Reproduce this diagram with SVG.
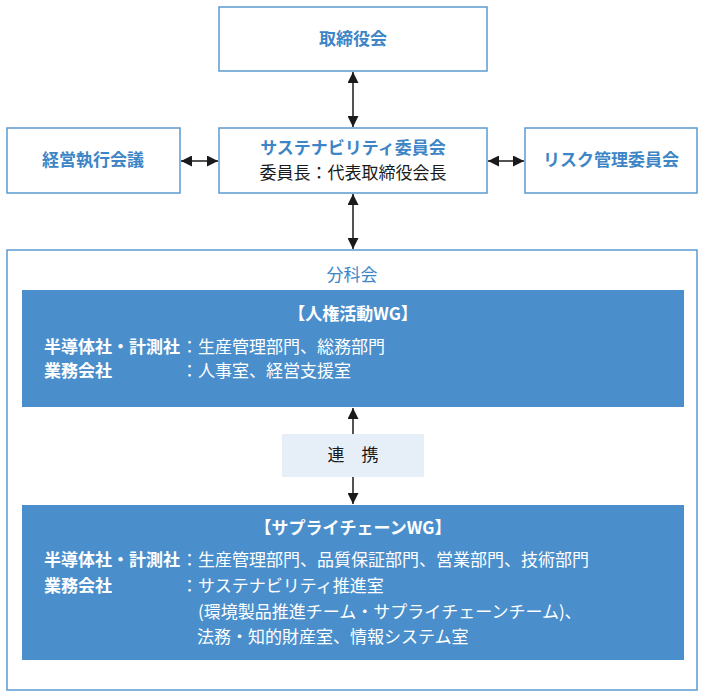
<svg xmlns="http://www.w3.org/2000/svg" width="705" height="697" viewBox="0 0 705 697">
<defs>
<marker id="ah" viewBox="0 0 10 10" refX="10" refY="5" markerWidth="11" markerHeight="11" markerUnits="userSpaceOnUse" orient="auto-start-reverse">
<path d="M0,0 L10,5 L0,10 z" fill="#1a1a1a"/>
</marker>
<style>
.box{fill:#fff;stroke:#5b9bd0;stroke-width:1.5}
.blue{fill:#4a8fcc}
.lbl{font-family:"Noto Sans CJK JP","Noto Sans",sans-serif;font-size:17px;fill:#3d85c6;font-weight:700;text-anchor:middle}
.blk{font-family:"Noto Sans CJK JP","Noto Sans",sans-serif;font-size:17px;fill:#1a1a1a;text-anchor:middle}
.wt{font-family:"Noto Sans CJK JP","Noto Sans",sans-serif;font-size:17px;fill:#fff}
.wb{font-weight:700}
.con{stroke:#1a1a1a;stroke-width:1.5;fill:none}
</style>
</defs>
<rect width="705" height="697" fill="#fff"/>
<g id="bunkakai">
<rect class="box" x="7" y="250" width="690" height="440"/>
<text class="lbl" x="352" y="281" style="font-weight:400">分科会</text>
</g>
<g id="torishimariyakukai">
<rect class="box" x="219" y="7" width="268" height="64"/>
<text class="lbl" x="353" y="45">取締役会</text>
</g>
<g id="sustainability">
<rect class="box" x="219" y="128" width="268" height="65"/>
<text class="lbl" x="353" y="154">サステナビリティ委員会</text>
<text class="blk" x="353" y="179">委員長：代表取締役会長</text>
</g>
<g id="keiei">
<rect class="box" x="7" y="128" width="173" height="65"/>
<text class="lbl" x="93" y="166">経営執行会議</text>
</g>
<g id="risk">
<rect class="box" x="525" y="128" width="172" height="65"/>
<text class="lbl" x="611" y="166">リスク管理委員会</text>
</g>
<g id="jinken">
<rect class="blue" x="22" y="290" width="662" height="117"/>
<text class="wt wb" x="353" y="320" text-anchor="middle">【人権活動WG】</text>
<text class="wt wb" x="44" y="353">半導体社・計測社</text>
<text class="wt" x="181" y="353">：生産管理部門、総務部門</text>
<text class="wt wb" x="44" y="377">業務会社</text>
<text class="wt" x="181" y="377">：人事室、経営支援室</text>
</g>
<g id="renkei">
<rect x="282" y="434" width="142" height="43" fill="#e6eef8"/>
<text class="blk" x="353" y="461">連　携</text>
</g>
<g id="supplychain">
<rect class="blue" x="22" y="505" width="662" height="155"/>
<text class="wt wb" x="353" y="534" text-anchor="middle">【サプライチェーンWG】</text>
<text class="wt wb" x="44" y="566">半導体社・計測社</text>
<text class="wt" x="181" y="566">：生産管理部門、品質保証部門、営業部門、技術部門</text>
<text class="wt wb" x="44" y="592">業務会社</text>
<text class="wt" x="181" y="592">：サステナビリティ推進室</text>
<text class="wt" x="198" y="618">(環境製品推進チーム・サプライチェーンチーム)、</text>
<text class="wt" x="197" y="643">法務・知的財産室、情報システム室</text>
</g>
<g id="connectors">
<line class="con" x1="353" y1="72" x2="353" y2="127" marker-start="url(#ah)" marker-end="url(#ah)"/>
<line class="con" x1="353" y1="194" x2="353" y2="249" marker-start="url(#ah)" marker-end="url(#ah)"/>
<line class="con" x1="181" y1="161" x2="218" y2="161" marker-start="url(#ah)" marker-end="url(#ah)"/>
<line class="con" x1="488" y1="161" x2="524" y2="161" marker-start="url(#ah)" marker-end="url(#ah)"/>
<line class="con" x1="353" y1="434" x2="353" y2="408" marker-end="url(#ah)"/>
<line class="con" x1="353" y1="477" x2="353" y2="504" marker-end="url(#ah)"/>
</g>
</svg>
